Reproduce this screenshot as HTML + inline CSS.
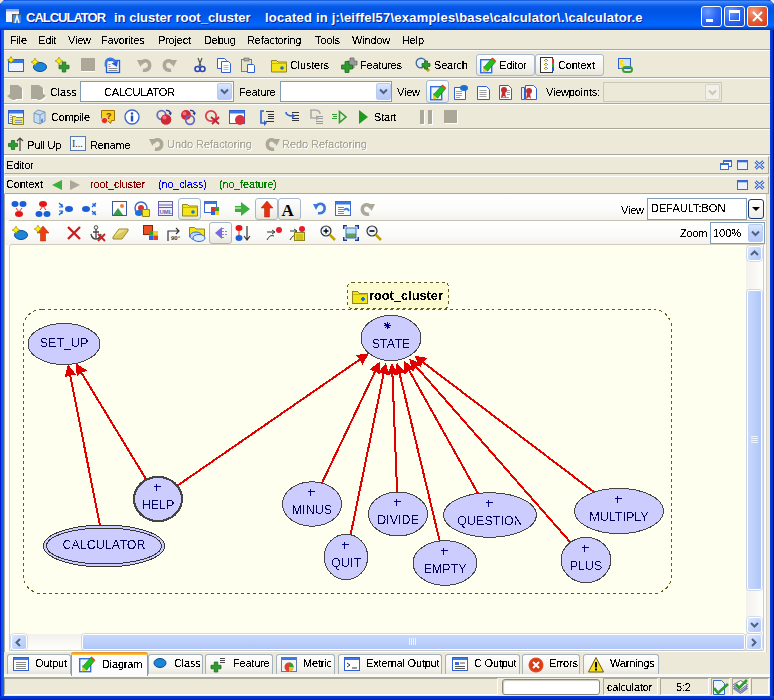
<!DOCTYPE html>
<html><head><meta charset="utf-8"><style>
*{margin:0;padding:0;box-sizing:border-box}
html,body{width:774px;height:700px;overflow:hidden;background:#ECE9D8}
body{position:relative;font-family:"Liberation Sans",sans-serif;font-size:11px;color:#000}
.a{position:absolute}
.t{white-space:pre;font-size:11px;line-height:13px;letter-spacing:-0.2px;filter:url(#crisp)}
.g{white-space:pre;font-size:11px;line-height:13px;color:#ACA899;letter-spacing:-0.05px;text-shadow:1px 1px 0 #fff;filter:url(#crisp)}
svg{overflow:visible}
.sepl{position:absolute;height:2px;border-top:1px solid #ACA899;border-bottom:1px solid #fff}
.btn{position:absolute;border:1px solid #A8B8D0;border-radius:3px;background:linear-gradient(#FFFFFF,#F4F3EE 60%,#E8E6DC)}
.combo{position:absolute;border:1px solid #7F9DB9;background:#fff}
.dd{position:absolute;border-radius:2px;border:1px solid #B8CCF0;background:linear-gradient(#DCE8FE,#C0D2FA 50%,#B6CAF8)}
.tab{position:absolute;border:1px solid #A4B2BE;border-bottom:none;border-radius:3px 3px 0 0;background:linear-gradient(#FEFEFE,#F4F3EE 70%,#E6E4DA)}
</style></head><body>
<svg width="0" height="0" style="position:absolute"><filter id="crisp"><feComponentTransfer><feFuncA type="discrete" tableValues="0 0 0 0 0 0 0 0 0 1 1 1 1 1 1 1 1 1 1 1"/></feComponentTransfer></filter><filter id="crisp2"><feComponentTransfer><feFuncA type="discrete" tableValues="0 0 0 0 0 0 0 0 0 0 0 1 1 1 1 1 1 1 1 1"/></feComponentTransfer></filter></svg>
<div class="a" style="left:0;top:0;width:774px;height:700px;background:#0831D9"></div>
<div class="a" style="left:0;top:0;width:774px;height:30px;border-radius:7px 7px 0 0;background:linear-gradient(#0848D0 0,#3A8CFF 1.5px,#2C7CF8 3px,#0A5AE8 6px,#0054E2 10px,#0058EA 16px,#0061F6 21px,#0066FF 25px,#005AEA 27px,#0042C8 29px,#0038B4 30px)"></div>
<div class="a" style="left:0;top:0;width:4px;height:4px;background:#E8E8E0;border-radius:0;clip-path:polygon(0 0,100% 0,0 100%);x:4px"></div>
<div class="a" style="left:770px;top:0;width:4px;height:4px;background:#E8E8E0;clip-path:polygon(0 0,100% 0,100% 100%)"></div>
<div class="a" style="left:0;top:30px;width:1px;height:670px;background:#0019CF"></div>
<div class="a" style="left:1px;top:30px;width:3px;height:666px;background:linear-gradient(90deg,#0D4FE8,#166AEE)"></div>
<div class="a" style="left:773px;top:30px;width:1px;height:670px;background:#001090"></div>
<div class="a" style="left:770px;top:30px;width:3px;height:666px;background:linear-gradient(90deg,#0A3FDC,#0029C0)"></div>
<div class="a" style="left:0;top:696px;width:774px;height:4px;background:linear-gradient(#0A3FDC,#0030C8 60%,#001890)"></div>
<div class="a" style="left:4px;top:30px;width:766px;height:666px;background:#ECE9D8"></div>
<svg class="a" style="left:6px;top:9px" width="16" height="15" viewBox="0 0 16 15"><rect x="0" y="0" width="13" height="13" fill="#F4F6FF"/><rect x="0" y="0" width="13" height="2.5" fill="#8AA8E8"/><rect x="6.5" y="5.5" width="9" height="9" fill="#3A8AE8" stroke="#555"/><path d="M9 14 L11 7 L13 14" stroke="#fff" stroke-width="1.4" fill="none"/></svg>
<div style="position:absolute;top:10px;color:#fff;font-weight:bold;font-size:13px;line-height:16px;white-space:pre;text-shadow:1px 1px 0 #0A1E8A;left:26px;letter-spacing:-1px">CALCULATOR</div>
<div style="position:absolute;top:10px;color:#fff;font-weight:bold;font-size:13px;line-height:16px;white-space:pre;text-shadow:1px 1px 0 #0A1E8A;left:114px;letter-spacing:0px">in cluster root_cluster</div>
<div style="position:absolute;top:10px;color:#fff;font-weight:bold;font-size:13px;line-height:16px;white-space:pre;text-shadow:1px 1px 0 #0A1E8A;left:265px;letter-spacing:0.22px">located in j:\eiffel57\examples\base\calculator\.\calculator.e</div>
<div class="a" style="left:701px;top:6px;width:21px;height:21px;border:1px solid #fff;border-radius:3px;background:radial-gradient(circle at 30% 25%,#6E9CFF 0,#2E6BF5 45%,#1F55E8 80%,#1746C8 100%);overflow:hidden"><div class="a" style="left:4px;top:12px;width:7px;height:3px;background:#fff"></div></div>
<div class="a" style="left:724px;top:6px;width:21px;height:21px;border:1px solid #fff;border-radius:3px;background:radial-gradient(circle at 30% 25%,#6E9CFF 0,#2E6BF5 45%,#1F55E8 80%,#1746C8 100%);overflow:hidden"><div class="a" style="left:4px;top:3px;width:11px;height:11px;border:1px solid #fff;border-top:3px solid #fff"></div></div>
<div class="a" style="left:747px;top:6px;width:21px;height:21px;border:1px solid #fff;border-radius:3px;background:radial-gradient(circle at 30% 25%,#F4A080 0,#E5603A 45%,#D84418 85%,#C03A10 100%);overflow:hidden"><svg class="a" style="left:4px;top:4px" width="11" height="11"><path d="M1 1L10 10M10 1L1 10" stroke="#fff" stroke-width="2"/></svg></div>
<div class="a t" style="left:10px;top:34px;">File</div>
<div class="a t" style="left:38px;top:34px;">Edit</div>
<div class="a t" style="left:68px;top:34px;">View</div>
<div class="a t" style="left:101px;top:34px;">Favorites</div>
<div class="a t" style="left:158px;top:34px;">Project</div>
<div class="a t" style="left:204px;top:34px;">Debug</div>
<div class="a t" style="left:247px;top:34px;">Refactoring</div>
<div class="a t" style="left:315px;top:34px;">Tools</div>
<div class="a t" style="left:352px;top:34px;">Window</div>
<div class="a t" style="left:402px;top:34px;">Help</div>
<div class="sepl" style="left:4px;top:49px;width:766px"></div>
<svg class="a" style="left:8px;top:57px" width="16" height="16" viewBox="0 0 16 16"><rect x="0.5" y="2.5" width="15" height="12" fill="#EEF2FF" stroke="#2F5FD0"/><rect x="1" y="3" width="14" height="3" fill="#3A78E8"/><path d="M3 -0.5999999999999996 L4.2 1.8 L6.6 3 L4.2 4.2 L3 6.6 L1.8 4.2 L-0.5999999999999996 3 L1.8 1.8Z" fill="#FFF200" stroke="#8A7A00" stroke-width="0.6"/></svg>
<svg class="a" style="left:31px;top:57px" width="16" height="16" viewBox="0 0 16 16"><ellipse cx="9" cy="10" rx="6.5" ry="4.5" fill="#1B86D8" stroke="#0B4A96"/><path d="M4 1.0999999999999996 L5.3 3.7 L7.9 5 L5.3 6.3 L4 8.9 L2.7 6.3 L0.09999999999999964 5 L2.7 3.7Z" fill="#FFF200" stroke="#8A7A00" stroke-width="0.6"/></svg>
<svg class="a" style="left:55px;top:57px" width="16" height="16" viewBox="0 0 16 16"><path d="M7.25 5.0h3.5v3.25h3.25v3.5h-3.25v3.25h-3.5v-3.25h-3.25v-3.5h3.25z" fill="#2E9B2E" stroke="#1F6B1F" stroke-width="0.8"/><path d="M4 0.09999999999999964 L5.3 2.7 L7.9 4 L5.3 5.3 L4 7.9 L2.7 5.3 L0.09999999999999964 4 L2.7 2.7Z" fill="#FFF200" stroke="#8A7A00" stroke-width="0.6"/></svg>
<svg class="a" style="left:81px;top:58px" width="14" height="14" viewBox="0 0 14 14"><rect x="0" y="0" width="14" height="14" fill="#ACA899"/><rect x="0" y="13" width="14" height="1" fill="#fff"/></svg>
<svg class="a" style="left:104px;top:57px" width="16" height="16" viewBox="0 0 16 16"><rect x="2.5" y="3.5" width="13" height="12" fill="#F4F6FF" stroke="#1E5AD0" stroke-width="1.3"/><path d="M4.5 7.5h2M4.5 9.5h2M4.5 11.5h9M4.5 13.5h9" stroke="#8A8A8A" stroke-width="1"/><path d="M2 9.5 Q1 2 6 1.8 Q9.5 1.8 11 5" stroke="#3A7AE8" stroke-width="2.6" fill="none"/><path d="M7.5 6.5L14 3.5L13 10z" fill="#2A5AD8"/></svg>
<svg class="a" style="left:137px;top:57px" width="16" height="16" viewBox="0 0 16 16"><path d="M4 7 Q6 3 10 4 Q14 6 12 11 Q10 14 6 13" stroke="#ACA899" stroke-width="3.5" fill="none"/><path d="M0 3l7 0-3.5 7z" fill="#ACA899"/></svg>
<svg class="a" style="left:161px;top:57px" width="16" height="16" viewBox="0 0 16 16"><path d="M12 7 Q10 3 6 4 Q2 6 4 11 Q6 14 10 13" stroke="#ACA899" stroke-width="3.5" fill="none"/><path d="M16 3l-7 0 3.5 7z" fill="#ACA899"/></svg>
<svg class="a" style="left:192px;top:57px" width="16" height="16" viewBox="0 0 16 16"><path d="M6 1 L9 9 M10 1 L7 9" stroke="#555" stroke-width="1.2"/><circle cx="5.5" cy="12" r="2.5" fill="none" stroke="#2846B8" stroke-width="1.6"/><circle cx="10.5" cy="12" r="2.5" fill="none" stroke="#2846B8" stroke-width="1.6"/></svg>
<svg class="a" style="left:216px;top:57px" width="16" height="16" viewBox="0 0 16 16"><path d="M1.5 1.5h7l2 2v8h-9z" fill="#fff" stroke="#2F5FD0"/><path d="M5.5 4.5h7l2 2v9h-9z" fill="#fff" stroke="#2F5FD0"/><path d="M7.5 8.5h5M7.5 10.5h5M7.5 12.5h5" stroke="#888" stroke-width="0.6"/></svg>
<svg class="a" style="left:240px;top:57px" width="16" height="16" viewBox="0 0 16 16"><rect x="1.5" y="2.5" width="10" height="12" fill="#E8E4C8" stroke="#8A8240"/><rect x="4" y="1" width="5" height="3" fill="#aaa" stroke="#666" stroke-width="0.6"/><path d="M7.5 7.5h6l1 1v7h-7z" fill="#fff" stroke="#2F5FD0"/></svg>
<svg class="a" style="left:271px;top:57px" width="16" height="16" viewBox="0 0 16 16"><path d="M0.5 3.5h5l1.5 1.5h8.5v10h-15z" fill="#F4E51A" stroke="#8F8520"/><path d="M0.5 6.5h15" stroke="#C8B810"/><circle cx="11" cy="11" r="1.8" fill="#1870D0"/></svg>
<div class="a t" style="left:290px;top:59px;">Clusters</div>
<svg class="a" style="left:341px;top:57px" width="16" height="16" viewBox="0 0 16 16"><path d="M9.0 1.0h4v3.0h3.0v4h-3.0v3.0h-4v-3.0h-3.0v-4h3.0z" fill="#9A9A9A" stroke="#6A6A6A" stroke-width="0.8"/><path d="M4.0 4.5h4v3.5h3.5v4h-3.5v3.5h-4v-3.5h-3.5v-4h3.5z" fill="#2E9B2E" stroke="#1F6B1F" stroke-width="0.8"/></svg>
<div class="a t" style="left:360px;top:59px;">Features</div>
<svg class="a" style="left:415px;top:57px" width="16" height="16" viewBox="0 0 16 16"><circle cx="6" cy="6" r="4.8" fill="#DDEEFF" stroke="#4A6A9A" stroke-width="1.4"/><path d="M9 9l5 5" stroke="#B89A10" stroke-width="3"/><path d="M9.5 4.0h3v2.5h2.5v3h-2.5v2.5h-3v-2.5h-2.5v-3h2.5z" fill="#2E9B2E" stroke="#1F6B1F" stroke-width="0.8"/></svg>
<div class="a t" style="left:434px;top:59px;">Search</div>
<div class="btn" style="left:476px;top:54px;width:59px;height:22px"></div>
<div class="btn" style="left:535px;top:54px;width:69px;height:22px"></div>
<svg class="a" style="left:480px;top:57px" width="16" height="16" viewBox="0 0 16 16"><rect x="0.7" y="2.7" width="11" height="13" fill="#F4F6FF" stroke="#2F6FE0" stroke-width="1.4"/><path d="M3 9.5h3M3 11.5h3M3 13.5h6" stroke="#aaa" stroke-width="0.8"/><path d="M3.6 10.8L7.4 14.2L15.2 5.2L11.4 1.8z" fill="#20C020" stroke="#107010" stroke-width="0.6"/><path d="M3.6 10.8L7.4 14.2L3 15.5z" fill="#E0D020"/><path d="M11.4 1.8L15.2 5.2L16.3 4L12.6 0.5z" fill="#E84010"/></svg>
<div class="a t" style="left:499px;top:59px;">Editor</div>
<svg class="a" style="left:539px;top:57px" width="16" height="16" viewBox="0 0 16 16"><rect x="1.5" y="0.5" width="12" height="15" fill="#fff" stroke="#333"/><path d="M7 2v12" stroke="#A08000" stroke-dasharray="1 1"/><path d="M5 4l2-2 2 2M5 8l2-2 2 2M5 12l2-2 2 2" stroke="#A09000" fill="none"/><rect x="13" y="2" width="2" height="4" fill="#E03030"/><rect x="13" y="6" width="2" height="4" fill="#30A030"/><rect x="13" y="10" width="2" height="4" fill="#3050E0"/></svg>
<div class="a t" style="left:558px;top:59px;">Context</div>
<svg class="a" style="left:617px;top:57px" width="16" height="16" viewBox="0 0 16 16"><rect x="1.5" y="1.5" width="12" height="10" fill="#CFE0FA" stroke="#2F5FD0"/><path d="M3 3h4l-2 4h3l-5 6 2-5h-3z" fill="#F8E020"/><rect x="6" y="10" width="9" height="5" rx="2.5" fill="none" stroke="#38A038" stroke-width="2"/></svg>
<div class="sepl" style="left:4px;top:77px;width:766px"></div>
<svg class="a" style="left:7px;top:84px" width="16" height="16" viewBox="0 0 16 16"><path d="M3 1H11L15 4V15H9L8 16H6L3 14.5L0 12L3 10z" fill="#fff" transform="translate(1,1)"/><path d="M3 1H11L15 4V15H9L8 16H6L3 14.5L0 12L3 10z" fill="#ACA899"/></svg>
<svg class="a" style="left:31px;top:84px" width="16" height="16" viewBox="0 0 16 16"><path d="M0 1H8L12 4V9.5L15 12L12 14.5L9 16H7L6 15H0z" fill="#fff" transform="translate(1,1)"/><path d="M0 1H8L12 4V9.5L15 12L12 14.5L9 16H7L6 15H0z" fill="#ACA899"/></svg>
<div class="a t" style="left:50px;top:86px;">Class</div>
<div class="combo" style="left:80px;top:81px;width:154px;height:21px"></div>
<div class="dd" style="left:217px;top:83px;width:15px;height:17px"></div>
<svg class="a" style="left:220px;top:88px" width="9" height="7"><path d="M1 1.5L4.5 5L8 1.5" stroke="#4D6185" stroke-width="2" fill="none"/></svg>
<div class="a t" style="left:104px;top:86px;">CALCULATOR</div>
<div class="a t" style="left:239px;top:86px;">Feature</div>
<div class="combo" style="left:280px;top:81px;width:112px;height:21px"></div>
<div class="dd" style="left:376px;top:83px;width:15px;height:17px"></div>
<svg class="a" style="left:379px;top:88px" width="9" height="7"><path d="M1 1.5L4.5 5L8 1.5" stroke="#4D6185" stroke-width="2" fill="none"/></svg>
<div class="a t" style="left:397px;top:86px;">View</div>
<div class="btn" style="left:426px;top:80px;width:23px;height:23px"></div>
<svg class="a" style="left:430px;top:84px" width="16" height="16" viewBox="0 0 16 16"><rect x="0.7" y="2.7" width="11" height="13" fill="#F4F6FF" stroke="#2F6FE0" stroke-width="1.4"/><path d="M3 9.5h3M3 11.5h3M3 13.5h6" stroke="#aaa" stroke-width="0.8"/><path d="M3.6 10.8L7.4 14.2L15.2 5.2L11.4 1.8z" fill="#20C020" stroke="#107010" stroke-width="0.6"/><path d="M3.6 10.8L7.4 14.2L3 15.5z" fill="#E0D020"/><path d="M11.4 1.8L15.2 5.2L16.3 4L12.6 0.5z" fill="#E84010"/></svg>
<svg class="a" style="left:453px;top:84px" width="16" height="16" viewBox="0 0 16 16"><path d="M1.5 3.5h9l2 2v10h-11z" fill="#fff" stroke="#2F5FD0"/><path d="M3 7.5h6M3 9.5h6M3 11.5h6M3 13.5h4" stroke="#777" stroke-width="0.7"/><ellipse cx="11" cy="4" rx="4" ry="3" fill="#1B6FD0"/></svg>
<svg class="a" style="left:476px;top:84px" width="16" height="16" viewBox="0 0 16 16"><path d="M1.5 2.5h9l3 3v10h-12z" fill="#fff" stroke="#2F5FD0"/><path d="M3.5 6.5h7M3.5 8.5h7M3.5 10.5h7M3.5 12.5h7" stroke="#777" stroke-width="0.7"/></svg>
<svg class="a" style="left:498px;top:84px" width="16" height="16" viewBox="0 0 16 16"><path d="M1.5 1.5h9l3 3v11h-12z" fill="#fff" stroke="#2F5FD0"/><path d="M9 6.5h3M9 8.5h3M9 10.5h3M3 13.5h8" stroke="#777" stroke-width="0.7"/><circle cx="6" cy="6" r="3" fill="#C03030"/><path d="M4 8l-1 6 3-2 2 2-1-6z" fill="#C03030"/></svg>
<svg class="a" style="left:521px;top:84px" width="16" height="16" viewBox="0 0 16 16"><path d="M4.5 1.5h8l3 3v11h-11z" fill="#fff" stroke="#2F5FD0"/><path d="M0.5 3.5h3v12h-3z" fill="#E8EEF8" stroke="#2F5FD0"/><circle cx="8" cy="7" r="3" fill="#C03030"/><path d="M6 9l-1 6 3-2 2 2-1-6z" fill="#C03030"/></svg>
<div class="a t" style="left:546px;top:86px;">Viewpoints:</div>
<div class="a" style="left:603px;top:82px;width:119px;height:20px;border:1px solid #C9C7BA;background:#ECE9D8"></div>
<div class="a" style="left:705px;top:84px;width:15px;height:16px;border:1px solid #D8D5C8;border-radius:2px;background:#F2F0E8"></div>
<svg class="a" style="left:708px;top:89px" width="9" height="7"><path d="M1 1.5L4.5 5L8 1.5" stroke="#C9C7BA" stroke-width="2" fill="none"/></svg>
<div class="sepl" style="left:4px;top:103px;width:766px"></div>
<svg class="a" style="left:8px;top:109px" width="16" height="16" viewBox="0 0 16 16"><rect x="0.5" y="1.5" width="15" height="13" fill="#F8F8FF" stroke="#2F5FD0"/><rect x="1" y="2" width="14" height="2.5" fill="#3A78E8"/><path d="M2.5 6.5h1M2.5 8.5h1M2.5 10.5h1M2.5 12.5h1" stroke="#555"/><path d="M4.5 7.5h3l1 1h7v7h-11z" fill="#F0E860" stroke="#8F8520"/><path d="M7 11.5h7M7 13.5h7" stroke="#8A9AB0" stroke-width="1"/></svg>
<svg class="a" style="left:31px;top:109px" width="16" height="16" viewBox="0 0 16 16"><path d="M3 4 L7 1 L14 3 L14 12 L9 15 L3 13z" fill="#C8DCF0" stroke="#7A9AC0"/><path d="M3 4 L9 6 L14 3 M9 6 V15" stroke="#7A9AC0" fill="none"/><path d="M11 9 Q9 12 11 14 Q13 12 11 9z" fill="#4A8AE0"/></svg>
<div class="a t" style="left:51px;top:111px;">Compile</div>
<svg class="a" style="left:100px;top:109px" width="16" height="16" viewBox="0 0 16 16"><path d="M1.5 1.5h13v10h-3l-1 3-3-3h-6z" fill="#F4D020" stroke="#A07000"/><text x="6" y="9.5" font-size="9" font-weight="bold" fill="#703000" font-family="Liberation Sans">?</text><circle cx="4.5" cy="11.5" r="3.2" fill="#E03020" stroke="#fff" stroke-width="0.8"/></svg>
<svg class="a" style="left:124px;top:109px" width="16" height="16" viewBox="0 0 16 16"><circle cx="8" cy="8" r="7" fill="#fff" stroke="#3A6AD0" stroke-width="1.4"/><circle cx="8" cy="4.5" r="1.2" fill="#2050C0"/><rect x="6.8" y="6.5" width="2.4" height="6" fill="#2050C0"/></svg>
<svg class="a" style="left:156px;top:109px" width="16" height="16" viewBox="0 0 16 16"><circle cx="5.5" cy="6" r="4.3" fill="none" stroke="#6A6ABF" stroke-width="1.8"/><circle cx="10" cy="10.5" r="5.3" fill="#D02838"/><circle cx="8.5" cy="8.5" r="2" fill="#F07080"/><path d="M10 1.5 Q14 1 14.5 4.5" stroke="#2A3A90" stroke-width="1.3" fill="none"/><path d="M12.5 4l2 2.5 1.5-3z" fill="#2A3A90"/></svg>
<svg class="a" style="left:180px;top:109px" width="16" height="16" viewBox="0 0 16 16"><circle cx="6" cy="6" r="5" fill="#D02838"/><circle cx="4.5" cy="4.5" r="2" fill="#F07080"/><circle cx="10" cy="11" r="4.3" fill="none" stroke="#6A6ABF" stroke-width="1.8"/><path d="M10 1.5 Q14 1 14.5 4.5" stroke="#2A3A90" stroke-width="1.3" fill="none"/><path d="M12.5 4l2 2.5 1.5-3z" fill="#2A3A90"/></svg>
<svg class="a" style="left:204px;top:109px" width="16" height="16" viewBox="0 0 16 16"><circle cx="7" cy="7" r="5.2" fill="none" stroke="#D84050" stroke-width="1.8"/><path d="M7 8 L15 15 M15 8 L8 15" stroke="#C02030" stroke-width="1.8"/></svg>
<svg class="a" style="left:229px;top:109px" width="16" height="16" viewBox="0 0 16 16"><rect x="0.5" y="1.5" width="15" height="13" fill="#fff" stroke="#2F5FD0"/><rect x="1" y="2" width="14" height="2.5" fill="#3A78E8"/><circle cx="11" cy="11" r="5" fill="#D83040"/></svg>
<svg class="a" style="left:259px;top:109px" width="16" height="16" viewBox="0 0 16 16"><path d="M7 2.5h8M9 5.5h6M9 7.5h6M9 9.5h6M7 12.5h8" stroke="#333" stroke-width="1"/><path d="M5 2 H2 V14 H6" stroke="#3060D0" stroke-width="1.6" fill="none"/><path d="M5 11l3 3-3 3z" fill="#3060D0"/></svg>
<svg class="a" style="left:284px;top:109px" width="16" height="16" viewBox="0 0 16 16"><path d="M8 3.5h7M8 6.5h7M8 9.5h7M8 11.5h7" stroke="#333" stroke-width="1"/><path d="M2 3 Q2 7 9 7" stroke="#3060D0" stroke-width="1.6" fill="none"/><path d="M8 4l3 3-3 3z" fill="#3060D0"/></svg>
<svg class="a" style="left:308px;top:109px" width="16" height="16" viewBox="0 0 16 16"><path d="M8 7.5h7M8 9.5h7M8 12.5h7M8 14.5h7" stroke="#999" stroke-width="1"/><path d="M12 5 Q12 1 6 1 H3 V9 H9" stroke="#aaa" stroke-width="1.6" fill="none"/><path d="M8 6l3 3-3 3z" fill="#aaa"/></svg>
<svg class="a" style="left:331px;top:109px" width="16" height="16" viewBox="0 0 16 16"><path d="M1 5.5h5M2 7.5h4M1 9.5h5" stroke="#2E9B2E"/><path d="M8.5 2.5 L15 8 L8.5 13.5z" fill="none" stroke="#2E9B2E" stroke-width="1.6"/></svg>
<svg class="a" style="left:359px;top:110px" width="9" height="14" viewBox="0 0 9 14"><path d="M0 0 L9 7 L0 14z" fill="#1E9B1E"/></svg>
<div class="a t" style="left:374px;top:111px;">Start</div>
<svg class="a" style="left:420px;top:109px" width="13" height="16" viewBox="0 0 13 16"><rect x="1" y="2" width="4" height="14" fill="#fff"/><rect x="9" y="2" width="4" height="14" fill="#fff"/><rect x="0" y="1" width="4" height="14" fill="#ACA899"/><rect x="8" y="1" width="4" height="14" fill="#ACA899"/></svg>
<svg class="a" style="left:444px;top:109px" width="14" height="16" viewBox="0 0 14 16"><rect x="1" y="2" width="13" height="13" fill="#fff"/><rect x="0" y="1" width="13" height="13" fill="#ACA899"/></svg>
<div class="sepl" style="left:4px;top:128px;width:766px"></div>
<svg class="a" style="left:7px;top:136px" width="16" height="16" viewBox="0 0 16 16"><path d="M4.4 4.5h3.2v2.9h2.9v3.2h-2.9v2.9h-3.2v-2.9h-2.9v-3.2h2.9z" fill="#2E9B2E" stroke="#1F6B1F" stroke-width="0.8"/><path d="M13 15V2 M10 5l3-3 3 3" stroke="#444" stroke-width="1.2" fill="none"/></svg>
<div class="a t" style="left:27px;top:139px;">Pull Up</div>
<svg class="a" style="left:70px;top:136px" width="16" height="16" viewBox="0 0 16 16"><rect x="0.5" y="0.5" width="15" height="14" fill="#F4F8FF" stroke="#5A7AB0"/><text x="2" y="11" font-size="10" font-family="Liberation Serif" fill="#333">I...</text></svg>
<div class="a t" style="left:90px;top:139px;">Rename</div>
<svg class="a" style="left:149px;top:136px" width="16" height="16" viewBox="0 0 16 16"><path d="M4 7 Q6 3 10 4 Q14 6 12 11 Q10 14 6 13" stroke="#ACA899" stroke-width="3.5" fill="none"/><path d="M0 3l7 0-3.5 7z" fill="#ACA899"/></svg>
<div class="a g" style="left:167px;top:138px">Undo Refactoring</div>
<svg class="a" style="left:264px;top:136px" width="16" height="16" viewBox="0 0 16 16"><path d="M12 7 Q10 3 6 4 Q2 6 4 11 Q6 14 10 13" stroke="#ACA899" stroke-width="3.5" fill="none"/><path d="M16 3l-7 0 3.5 7z" fill="#ACA899"/></svg>
<div class="a g" style="left:282px;top:138px">Redo Refactoring</div>
<div class="sepl" style="left:4px;top:154px;width:766px"></div>
<div class="a" style="left:4px;top:156px;width:765px;height:18px;border:1px solid #ACA899;border-top-color:#fff;border-left-color:#fff;background:#ECE9D8"></div>
<div class="a t" style="left:6px;top:159px;">Editor</div>
<svg class="a" style="left:720px;top:160px" width="12" height="10" viewBox="0 0 12 10"><rect x="3.5" y="0.5" width="8" height="6" fill="#fff" stroke="#3A6AD0"/><rect x="0.5" y="3.5" width="8" height="6" fill="#fff" stroke="#3A6AD0"/><rect x="0.5" y="3.5" width="8" height="1.5" fill="#3A6AD0"/><rect x="3.5" y="0.5" width="8" height="1.5" fill="#3A6AD0"/></svg>
<svg class="a" style="left:737px;top:160px" width="11" height="10" viewBox="0 0 11 10"><rect x="0.5" y="0.5" width="10" height="9" fill="#EEF2FF" stroke="#3A6AD0"/><rect x="0.5" y="0.5" width="10" height="1.8" fill="#3A6AD0"/></svg>
<svg class="a" style="left:754px;top:160px" width="11" height="10" viewBox="0 0 11 10"><path d="M1.5 1.5L9.5 8.5M9.5 1.5L1.5 8.5" stroke="#3A6AD0" stroke-width="3"/><path d="M1.5 1.5L9.5 8.5M9.5 1.5L1.5 8.5" stroke="#fff" stroke-width="1"/></svg>
<div class="a" style="left:4px;top:176px;width:765px;height:18px;border:1px solid #ACA899;border-top-color:#fff;border-left-color:#fff;background:#ECE9D8"></div>
<div class="a t" style="left:6px;top:178px;">Context</div>
<svg class="a" style="left:52px;top:180px" width="11" height="11" viewBox="0 0 11 11"><path d="M0 5 L10 0 L10 10z" fill="#3CB03C"/></svg>
<svg class="a" style="left:70px;top:180px" width="11" height="11" viewBox="0 0 11 11"><path d="M10 5 L0 0 L0 10z" fill="#ACA899"/></svg>
<div class="a t" style="left:90px;top:178px;color:#800000">root_cluster</div>
<div class="a t" style="left:158px;top:178px;color:#0000FF">(no_class)</div>
<div class="a t" style="left:219px;top:178px;color:#008000">(no_feature)</div>
<svg class="a" style="left:737px;top:180px" width="11" height="10" viewBox="0 0 11 10"><rect x="0.5" y="0.5" width="10" height="9" fill="#EEF2FF" stroke="#3A6AD0"/><rect x="0.5" y="0.5" width="10" height="1.8" fill="#3A6AD0"/></svg>
<svg class="a" style="left:754px;top:180px" width="11" height="10" viewBox="0 0 11 10"><path d="M1.5 1.5L9.5 8.5M9.5 1.5L1.5 8.5" stroke="#3A6AD0" stroke-width="3"/><path d="M1.5 1.5L9.5 8.5M9.5 1.5L1.5 8.5" stroke="#fff" stroke-width="1"/></svg>
<div class="a" style="left:4px;top:194px;width:763px;height:458px;border-left:1px solid #ACA899;background:#FCFCFB"></div>
<div class="a" style="left:5px;top:195px;width:761px;height:25px;background:linear-gradient(#FFFFFF,#FBFBF9 60%,#F4F3EE)"></div>
<div class="a" style="left:9px;top:220px;width:757px;height:1px;background:#C5C2B2"></div>
<div class="a" style="left:9px;top:221px;width:757px;height:1px;background:#fff"></div>
<div class="a" style="left:5px;top:222px;width:761px;height:23px;background:linear-gradient(#FFFFFF,#FAFAF8 60%,#F2F1EC)"></div>
<div class="a" style="left:766px;top:194px;width:1px;height:458px;background:#D6D3C6"></div>
<svg class="a" style="left:11px;top:201px" width="16" height="16" viewBox="0 0 16 16"><ellipse cx="4" cy="3" rx="3.5" ry="3" fill="#1B5FD8"/><ellipse cx="12" cy="3" rx="3.5" ry="3" fill="#1B5FD8"/><ellipse cx="8" cy="13" rx="4" ry="3" fill="#E01818"/><path d="M5 7l3 4 3-4" stroke="#E03030" fill="none" stroke-width="1"/></svg>
<svg class="a" style="left:35px;top:201px" width="16" height="16" viewBox="0 0 16 16"><ellipse cx="8" cy="3" rx="4" ry="3" fill="#E01818"/><ellipse cx="4" cy="13" rx="3.5" ry="3" fill="#1B5FD8"/><ellipse cx="12" cy="13" rx="3.5" ry="3" fill="#1B5FD8"/><path d="M5 9l3-4 3 4" stroke="#E03030" fill="none" stroke-width="1"/></svg>
<svg class="a" style="left:58px;top:201px" width="16" height="16" viewBox="0 0 16 16"><ellipse cx="11" cy="8" rx="4" ry="3" fill="#1B5FD8"/><path d="M1 2l4 4 M1 14l4-4 M1 6h3v-3 M1 10h3v3" stroke="#1B5FD8" fill="none" stroke-width="1.2"/></svg>
<svg class="a" style="left:81px;top:201px" width="16" height="16" viewBox="0 0 16 16"><ellipse cx="5" cy="8" rx="4" ry="3" fill="#1B5FD8"/><path d="M15 2l-4 4 M15 14l-4-4 M11 3h3v3 M11 13h3v-3" stroke="#1B5FD8" fill="none" stroke-width="1.2"/></svg>
<svg class="a" style="left:112px;top:201px" width="16" height="16" viewBox="0 0 16 16"><rect x="0.5" y="0.5" width="14" height="14" fill="#fff" stroke="#3A5A9A"/><path d="M1 14 L6 7 L11 14z" fill="#3A9A4A"/><circle cx="10" cy="5" r="2" fill="#F08030"/></svg>
<svg class="a" style="left:134px;top:201px" width="16" height="16" viewBox="0 0 16 16"><circle cx="7" cy="7" r="6" fill="#fff" stroke="#3A6AD0" stroke-width="1.5"/><circle cx="7" cy="7" r="3" fill="#E03030"/><ellipse cx="5" cy="12" rx="4" ry="3" fill="#1B6FD8"/><path d="M8.5 8.5h7v7h-7z" fill="#F4E51A" stroke="#8F8520"/></svg>
<svg class="a" style="left:158px;top:201px" width="16" height="16" viewBox="0 0 16 16"><rect x="0.5" y="0.5" width="14" height="14" fill="#F0F0FF" stroke="#6A5AB0"/><path d="M1 4h14M1 6.5h14" stroke="#6A5AB0"/><text x="1.5" y="13" font-size="6" font-weight="bold" fill="#6A5AB0" font-family="Liberation Sans">UML</text></svg>
<div class="btn" style="left:178px;top:198px;width:23px;height:22px"></div>
<svg class="a" style="left:182px;top:201px" width="16" height="16" viewBox="0 0 16 16"><path d="M0.5 3.5h5l1.5 1.5h8.5v10h-15z" fill="#F4E51A" stroke="#8F8520"/><path d="M0.5 6.5h15" stroke="#C8B810"/><circle cx="11" cy="11" r="1.8" fill="#1870D0"/></svg>
<svg class="a" style="left:204px;top:201px" width="16" height="16" viewBox="0 0 16 16"><rect x="0.5" y="0.5" width="12" height="11" fill="#fff" stroke="#3A6AD0"/><rect x="1" y="1" width="11" height="2" fill="#3A78E8"/><rect x="7" y="6" width="4" height="4" fill="#E03030"/><rect x="11" y="6" width="4" height="4" fill="#30A030"/><rect x="7" y="10" width="4" height="4" fill="#3060E0"/><rect x="11" y="10" width="4" height="4" fill="#F0D020"/></svg>
<svg class="a" style="left:235px;top:201px" width="16" height="16" viewBox="0 0 16 16"><path d="M0 5h6v-4l9 7-9 7v-4h-6z" fill="#3CB03C"/><path d="M0 7h6" stroke="#fff"/></svg>
<div class="btn" style="left:255px;top:198px;width:23px;height:22px"></div>
<svg class="a" style="left:259px;top:201px" width="16" height="16" viewBox="0 0 16 16"><path d="M8 0l6 7h-3.5v9h-5v-9h-3.5z" fill="#E83010" stroke="#A02000" stroke-width="0.5"/></svg>
<div class="btn" style="left:278px;top:198px;width:23px;height:22px"></div>
<svg class="a" style="left:281px;top:201px" width="16" height="16" viewBox="0 0 16 16"><text x="0.5" y="15" font-size="17" font-weight="bold" font-family="Liberation Serif" fill="#000">A</text></svg>
<svg class="a" style="left:312px;top:201px" width="16" height="16" viewBox="0 0 16 16"><path d="M4 6 Q6 2 10 3 Q14 5 12 10 Q10 13 6 12" stroke="#3A7AE0" stroke-width="2.6" fill="none"/><path d="M1 3l6 0-3 6z" fill="#3A7AE0"/></svg>
<svg class="a" style="left:335px;top:201px" width="16" height="16" viewBox="0 0 16 16"><rect x="0.5" y="0.5" width="15" height="14" fill="#fff" stroke="#3A6AD0"/><rect x="1" y="1" width="14" height="2.5" fill="#3A78E8"/><path d="M3 6.5h6M3 8.5h6M3 10.5h6M3 12.5h6" stroke="#666" stroke-width="0.8"/><path d="M9 9 Q12 6 14 10" stroke="#3A7AE0" stroke-width="2" fill="none"/></svg>
<svg class="a" style="left:359px;top:201px" width="16" height="16" viewBox="0 0 16 16"><path d="M12 7 Q10 3 6 4 Q2 6 4 11 Q6 14 10 13" stroke="#ACA899" stroke-width="3.5" fill="none"/><path d="M16 3l-7 0 3.5 7z" fill="#ACA899"/></svg>
<div class="a t" style="left:621px;top:204px;">View</div>
<div class="combo" style="left:647px;top:198px;width:100px;height:22px"></div>
<div class="a t" style="left:651px;top:202px;font-size:11px;letter-spacing:0">DEFAULT:BON</div>
<div class="a" style="left:748px;top:199px;width:16px;height:20px;border:1px solid #1C3A6E;border-radius:3px;background:linear-gradient(#fff,#ECEBE6)"></div>
<svg class="a" style="left:752px;top:207px" width="8" height="5"><path d="M0 0h8L4 4z" fill="#000"/></svg>
<svg class="a" style="left:12px;top:225px" width="16" height="16" viewBox="0 0 16 16"><ellipse cx="9" cy="10" rx="6.5" ry="4.5" fill="#1B86D8" stroke="#0B4A96"/><path d="M4 1.0999999999999996 L5.3 3.7 L7.9 5 L5.3 6.3 L4 8.9 L2.7 6.3 L0.09999999999999964 5 L2.7 3.7Z" fill="#FFF200" stroke="#8A7A00" stroke-width="0.6"/></svg>
<svg class="a" style="left:34px;top:225px" width="16" height="16" viewBox="0 0 16 16"><path d="M9 1l6 7h-3.5v8h-5v-8h-3.5z" fill="#E84010" stroke="#A02000" stroke-width="0.5"/><path d="M4 0.09999999999999964 L5.3 2.7 L7.9 4 L5.3 5.3 L4 7.9 L2.7 5.3 L0.09999999999999964 4 L2.7 2.7Z" fill="#FFF200" stroke="#8A7A00" stroke-width="0.6"/></svg>
<svg class="a" style="left:66px;top:225px" width="16" height="16" viewBox="0 0 16 16"><path d="M2 2 L14 14 M14 2 L2 14" stroke="#C82020" stroke-width="2.4"/></svg>
<svg class="a" style="left:89px;top:225px" width="16" height="16" viewBox="0 0 16 16"><circle cx="7" cy="2.5" r="1.8" fill="none" stroke="#444"/><path d="M7 4v9 M4 7h6 M2 9 Q3 14 7 14 Q11 14 12 9" stroke="#444" fill="none" stroke-width="1.3"/><path d="M9 9 L16 16 M16 9 L9 16" stroke="#C82020" stroke-width="1.8"/></svg>
<svg class="a" style="left:112px;top:225px" width="16" height="16" viewBox="0 0 16 16"><path d="M1 12 L7 4 H16 L10 12z" fill="#F0E080" stroke="#9A8A30"/><path d="M1 12 V14 H10 L16 6 V4" fill="#D8C860" stroke="#9A8A30"/></svg>
<svg class="a" style="left:143px;top:225px" width="16" height="16" viewBox="0 0 16 16"><rect x="0.5" y="0.5" width="9" height="9" fill="#E85020" stroke="#902000"/><rect x="6" y="6" width="4.5" height="4.5" fill="#30A030"/><rect x="10.5" y="6" width="4.5" height="4.5" fill="#F0D020"/><rect x="6" y="10.5" width="4.5" height="4.5" fill="#3060E0"/><rect x="10.5" y="10.5" width="4.5" height="4.5" fill="#E04030"/></svg>
<svg class="a" style="left:167px;top:225px" width="16" height="16" viewBox="0 0 16 16"><path d="M1 16V6h10 M9 3l3 3-3 3" stroke="#333" fill="none" stroke-width="1.2"/><text x="4" y="15" font-size="6" font-weight="bold" fill="#333" font-family="Liberation Sans">90°</text></svg>
<svg class="a" style="left:189px;top:225px" width="16" height="16" viewBox="0 0 16 16"><path d="M0.5 2.5h5l1.5 1.5h8.5v8h-15z" fill="#F4E51A" stroke="#8F8520"/><ellipse cx="7" cy="11" rx="6" ry="4" fill="#BFD8F8" stroke="#3A6AD0"/><ellipse cx="10" cy="13" rx="6" ry="3.5" fill="#DDEEFF" stroke="#3A6AD0"/></svg>
<div class="btn" style="left:209px;top:222px;width:23px;height:22px"></div>
<svg class="a" style="left:213px;top:225px" width="16" height="16" viewBox="0 0 16 16"><path d="M2 8 L9 2 L9 14z" fill="#7A6AE0"/><path d="M10 3v1M10 6v1M10 9v1M10 12v1M13 6v1M13 9v1" stroke="#5A5ABF" stroke-width="1.4"/></svg>
<svg class="a" style="left:235px;top:225px" width="16" height="16" viewBox="0 0 16 16"><ellipse cx="4" cy="3" rx="3.5" ry="3" fill="#E01818"/><ellipse cx="4" cy="13" rx="3.5" ry="3" fill="#1B5FD8"/><path d="M4 6v4" stroke="#E03030"/><path d="M12 1v13 M9 11l3 4 3-4" stroke="#333" fill="none" stroke-width="1.2"/></svg>
<svg class="a" style="left:266px;top:225px" width="16" height="16" viewBox="0 0 16 16"><path d="M1 15 Q4 9 8 11 M1 7h7 M6 5l3 2-3 2" stroke="#333" fill="none"/><circle cx="13" cy="5" r="3" fill="#E02030"/></svg>
<svg class="a" style="left:289px;top:225px" width="16" height="16" viewBox="0 0 16 16"><path d="M1 15 Q4 9 8 11 M1 6h6 M5 4l3 2-3 2" stroke="#333" fill="none"/><circle cx="13" cy="4" r="3" fill="#E02030"/><rect x="5.5" y="7.5" width="10" height="8" fill="#F4E51A" stroke="#8F8520"/><path d="M7 10h7M7 12h7M7 14h7" stroke="#8F8520" stroke-width="0.7"/></svg>
<svg class="a" style="left:320px;top:225px" width="16" height="16" viewBox="0 0 16 16"><circle cx="6" cy="6" r="5" fill="#EEF4FF" stroke="#333" stroke-width="1.2"/><path d="M3.5 6h5M6 3.5v5" stroke="#000" stroke-width="1.4"/><path d="M9.5 9.5L15 15" stroke="#C0A000" stroke-width="2.5"/></svg>
<svg class="a" style="left:343px;top:225px" width="16" height="16" viewBox="0 0 16 16"><path d="M0 0h4v1.5H1.5V4H0z M16 0h-4v1.5h2.5V4H16z M0 16h4v-1.5H1.5V12H0z M16 16h-4v-1.5h2.5V12H16z" fill="#1A3A9A"/><rect x="3" y="3" width="10" height="10" fill="#60A060" stroke="#3A6AD0"/><rect x="3.5" y="3.5" width="9" height="5" fill="#BFE0FF"/></svg>
<svg class="a" style="left:366px;top:225px" width="16" height="16" viewBox="0 0 16 16"><circle cx="6" cy="6" r="5" fill="#EEF4FF" stroke="#333" stroke-width="1.2"/><path d="M3.5 6h5" stroke="#000" stroke-width="1.6"/><path d="M9.5 9.5L15 15" stroke="#C0A000" stroke-width="2.5"/></svg>
<div class="a t" style="left:680px;top:227px;">Zoom</div>
<div class="combo" style="left:710px;top:222px;width:55px;height:22px"></div>
<div class="a t" style="left:713px;top:227px;font-size:11px;letter-spacing:0">100%</div>
<div class="dd" style="left:748px;top:224px;width:15px;height:18px"></div>
<svg class="a" style="left:751px;top:230px" width="9" height="7"><path d="M1 1.5L4.5 5L8 1.5" stroke="#4D6185" stroke-width="2" fill="none"/></svg>
<div class="a" style="left:9px;top:244px;width:755px;height:407px;border:1px solid #D0CDBE;border-radius:3px 0 0 0;background:#FFFFF0"></div>
<div class="a" style="left:5px;top:651px;width:761px;height:1px;background:#fff"></div>
<div class="a" style="left:746px;top:245px;width:17px;height:389px;background:linear-gradient(90deg,#F3F1EC,#FEFEFB)"></div>
<div class="a" style="left:747px;top:246px;width:15px;height:15px;border:1px solid #fff;border-radius:3px;background:linear-gradient(135deg,#DDE8FF,#C4D6FC 50%,#B4C8F6);box-shadow:0 0 0 0.5px #B0C0E0"></div>
<svg class="a" style="left:750px;top:250px" width="9" height="6"><path d="M1 5L4.5 1.5L8 5" stroke="#4D6185" stroke-width="2" fill="none"/></svg>
<div class="a" style="left:747px;top:290px;width:15px;height:300px;border:1px solid #fff;border-radius:2px;background:linear-gradient(90deg,#C8D8FC,#BCD0FA 50%,#B0C6F6);box-shadow:0 0 0 0.5px #A8B8E0"></div>
<svg class="a" style="left:751px;top:436px" width="7" height="7"><path d="M0 0.5h7M0 2.5h7M0 4.5h7M0 6.5h7" stroke="#EEF4FF"/></svg>
<div class="a" style="left:747px;top:617px;width:15px;height:16px;border:1px solid #fff;border-radius:3px;background:linear-gradient(135deg,#DDE8FF,#C4D6FC 50%,#B4C8F6);box-shadow:0 0 0 0.5px #B0C0E0"></div>
<svg class="a" style="left:750px;top:622px" width="9" height="6"><path d="M1 1L4.5 4.5L8 1" stroke="#4D6185" stroke-width="2" fill="none"/></svg>
<div class="a" style="left:10px;top:634px;width:753px;height:16px;background:linear-gradient(#F3F1EC,#FEFEFB)"></div>
<div class="a" style="left:11px;top:634px;width:16px;height:16px;border:1px solid #fff;border-radius:3px;background:linear-gradient(135deg,#DDE8FF,#C4D6FC 50%,#B4C8F6);box-shadow:0 0 0 0.5px #B0C0E0"></div>
<svg class="a" style="left:15px;top:638px" width="6" height="9"><path d="M5 1L1.5 4.5L5 8" stroke="#4D6185" stroke-width="2" fill="none"/></svg>
<div class="a" style="left:82px;top:634px;width:663px;height:16px;border:1px solid #fff;border-radius:2px;background:linear-gradient(#C8D8FC,#BCD0FA 50%,#B0C6F6);box-shadow:0 0 0 0.5px #A8B8E0"></div>
<svg class="a" style="left:409px;top:638px" width="7" height="7"><path d="M0.5 0v7M2.5 0v7M4.5 0v7M6.5 0v7" stroke="#EEF4FF"/></svg>
<div class="a" style="left:746px;top:634px;width:16px;height:16px;border:1px solid #fff;border-radius:3px;background:linear-gradient(135deg,#DDE8FF,#C4D6FC 50%,#B4C8F6);box-shadow:0 0 0 0.5px #B0C0E0"></div>
<svg class="a" style="left:751px;top:638px" width="6" height="9"><path d="M1 1L4.5 4.5L1 8" stroke="#4D6185" stroke-width="2" fill="none"/></svg>
<svg class="a" style="left:0;top:0" width="746" height="634" viewBox="0 0 746 634"><defs><clipPath id="cv"><rect x="10" y="245" width="736" height="389"/></clipPath></defs><g clip-path="url(#cv)" shape-rendering="crispEdges"><rect x="23.5" y="309.5" width="648" height="284" rx="18" ry="18" fill="none" stroke="#5C5C1E" stroke-dasharray="3 3"/><rect x="347.5" y="282.5" width="101" height="26" rx="4" ry="4" fill="#FCFAD0" stroke="#5C5C1E" stroke-dasharray="3 3"/><g transform="translate(352,288)"><path d="M0.5 3.5h5l1.5 1.5h8.5v10h-15z" fill="#F4E51A" stroke="#8F8520"/><path d="M0.5 6.5h15" stroke="#C8B810"/><circle cx="11" cy="11" r="1.8" fill="#1870D0"/></g><text x="369" y="300" font-family="Liberation Sans" font-weight="bold" font-size="12.8" fill="#000" filter="url(#crisp)">root_cluster</text><line x1="99.9" y1="525.0" x2="69.6" y2="372.2" stroke="#E00000" stroke-width="2"/><path d="M68.0 364.4L76.3 375.0L70.2 375.2L64.5 377.3Z" fill="#E00000"/><line x1="146.1" y1="479.3" x2="79.9" y2="370.2" stroke="#E00000" stroke-width="2"/><path d="M75.8 363.4L87.1 370.5L81.5 372.8L76.8 376.7Z" fill="#E00000"/><line x1="177.6" y1="485.5" x2="362.3" y2="357.8" stroke="#E00000" stroke-width="2"/><path d="M368.9 353.3L362.4 365.0L359.8 359.5L355.6 355.2Z" fill="#E00000"/><line x1="321.9" y1="483.1" x2="376.4" y2="368.8" stroke="#E00000" stroke-width="2"/><path d="M379.8 361.5L380.1 374.9L375.1 371.5L369.2 369.8Z" fill="#E00000"/><line x1="350.6" y1="534.8" x2="384.3" y2="370.6" stroke="#E00000" stroke-width="2"/><path d="M385.9 362.8L389.4 375.7L383.7 373.6L377.6 373.3Z" fill="#E00000"/><line x1="397.1" y1="492.0" x2="392.3" y2="371.1" stroke="#E00000" stroke-width="2"/><path d="M392.0 363.1L398.5 374.8L392.4 374.1L386.5 375.3Z" fill="#E00000"/><line x1="439.7" y1="541.0" x2="398.8" y2="370.4" stroke="#E00000" stroke-width="2"/><path d="M396.9 362.7L405.6 372.9L399.5 373.4L393.9 375.7Z" fill="#E00000"/><line x1="478.0" y1="493.5" x2="407.8" y2="368.0" stroke="#E00000" stroke-width="2"/><path d="M403.9 361.0L415.0 368.6L409.2 370.6L404.5 374.4Z" fill="#E00000"/><line x1="570.5" y1="542.4" x2="414.5" y2="364.7" stroke="#E00000" stroke-width="2"/><path d="M409.2 358.7L421.6 363.8L416.5 367.0L412.6 371.7Z" fill="#E00000"/><line x1="594.2" y1="492.2" x2="420.5" y2="360.4" stroke="#E00000" stroke-width="2"/><path d="M414.1 355.5L427.3 358.0L422.9 362.2L420.1 367.6Z" fill="#E00000"/><ellipse cx="64" cy="344" rx="36" ry="20.5" fill="#CCCCFF" stroke="#444" stroke-width="1"/><text x="64" y="347" text-anchor="middle" font-family="Liberation Sans" font-size="12.5" fill="#000060" filter="url(#crisp2)">SET_UP</text><ellipse cx="391" cy="338" rx="30" ry="22.6" fill="#CCCCFF" stroke="#444" stroke-width="1"/><g transform="translate(387.3,325.6)" stroke="#000090" stroke-width="1.2"><path d="M0 -3.5V3.5M-3.5 0H3.5M-2.5 -2.5L2.5 2.5M2.5 -2.5L-2.5 2.5"/></g><text x="391" y="347.5" text-anchor="middle" font-family="Liberation Sans" font-size="12.5" fill="#000060" filter="url(#crisp2)">STATE</text><ellipse cx="158" cy="499" rx="24.0" ry="22.0" fill="#CCCCFF" stroke="#444" stroke-width="2.2"/><path d="M153.5 486.5h7M156.5 483.5v7" stroke="#000080" stroke-width="1"/><text x="158" y="508.5" text-anchor="middle" font-family="Liberation Sans" font-size="12.5" fill="#000060" filter="url(#crisp2)">HELP</text><ellipse cx="104" cy="546" rx="60.5" ry="21" fill="#CCCCFF" stroke="#333" stroke-width="1"/><ellipse cx="104" cy="546" rx="57.5" ry="18" fill="none" stroke="#333" stroke-width="1"/><text x="104" y="549" text-anchor="middle" font-family="Liberation Sans" font-size="12.5" fill="#000060" filter="url(#crisp2)">CALCULATOR</text><ellipse cx="312" cy="504" rx="29.5" ry="22.2" fill="#CCCCFF" stroke="#444" stroke-width="1"/><path d="M307.5 491.5h7M310.5 488.5v7" stroke="#000080" stroke-width="1"/><text x="312" y="513.5" text-anchor="middle" font-family="Liberation Sans" font-size="12.5" fill="#000060" filter="url(#crisp2)">MINUS</text><ellipse cx="346" cy="557" rx="21.7" ry="22.7" fill="#CCCCFF" stroke="#444" stroke-width="1"/><path d="M341.5 544.5h7M344.5 541.5v7" stroke="#000080" stroke-width="1"/><text x="346" y="566.5" text-anchor="middle" font-family="Liberation Sans" font-size="12.5" fill="#000060" filter="url(#crisp2)">QUIT</text><ellipse cx="398" cy="514" rx="29.5" ry="22" fill="#CCCCFF" stroke="#444" stroke-width="1"/><path d="M393.5 501.5h7M396.5 498.5v7" stroke="#000080" stroke-width="1"/><text x="398" y="523.5" text-anchor="middle" font-family="Liberation Sans" font-size="12.5" fill="#000060" filter="url(#crisp2)">DIVIDE</text><ellipse cx="445" cy="563" rx="32" ry="22.3" fill="#CCCCFF" stroke="#444" stroke-width="1"/><path d="M440.5 550.5h7M443.5 547.5v7" stroke="#000080" stroke-width="1"/><text x="445" y="572.5" text-anchor="middle" font-family="Liberation Sans" font-size="12.5" fill="#000060" filter="url(#crisp2)">EMPTY</text><ellipse cx="490" cy="515" rx="46.5" ry="22.3" fill="#CCCCFF" stroke="#444" stroke-width="1"/><path d="M485.5 502.5h7M488.5 499.5v7" stroke="#000080" stroke-width="1"/><text x="490" y="524.5" text-anchor="middle" font-family="Liberation Sans" font-size="12.5" fill="#000060" filter="url(#crisp2)">QUESTION</text><ellipse cx="586" cy="560" rx="24.8" ry="22.6" fill="#CCCCFF" stroke="#444" stroke-width="1"/><path d="M581.5 547.5h7M584.5 544.5v7" stroke="#000080" stroke-width="1"/><text x="586" y="569.5" text-anchor="middle" font-family="Liberation Sans" font-size="12.5" fill="#000060" filter="url(#crisp2)">PLUS</text><ellipse cx="619" cy="511" rx="44.5" ry="22.6" fill="#CCCCFF" stroke="#444" stroke-width="1"/><path d="M614.5 498.5h7M617.5 495.5v7" stroke="#000080" stroke-width="1"/><text x="619" y="520.5" text-anchor="middle" font-family="Liberation Sans" font-size="12.5" fill="#000060" filter="url(#crisp2)">MULTIPLY</text></g></svg>
<div class="a" style="left:4px;top:674px;width:766px;height:3px;background:#FAFAF6"></div>
<div class="a" style="left:4px;top:677px;width:766px;height:1px;background:#ACA899"></div>
<div class="tab" style="left:7px;top:654px;width:64px;height:20px"></div>
<svg class="a" style="left:13px;top:657px" width="16" height="16" viewBox="0 0 16 16"><rect x="0.5" y="0.5" width="15" height="13" fill="#fff" stroke="#2F5FD0"/><rect x="1" y="1" width="14" height="2" fill="#3A78E8"/><path d="M3 5.5h10M3 7.5h10M3 9.5h10M3 11.5h10" stroke="#888"/></svg>
<div class="a t" style="left:35px;top:657px;">Output</div>
<div class="tab" style="left:148px;top:654px;width:55px;height:20px"></div>
<svg class="a" style="left:153px;top:657px" width="16" height="16" viewBox="0 0 16 16"><ellipse cx="7" cy="6" rx="6" ry="4.5" fill="#1B86D8" stroke="#0B4A96"/></svg>
<div class="a t" style="left:174px;top:657px;">Class</div>
<div class="tab" style="left:205px;top:654px;width:68px;height:20px"></div>
<svg class="a" style="left:210px;top:657px" width="16" height="16" viewBox="0 0 16 16"><path d="M4.25 5.0h3.5v3.25h3.25v3.5h-3.25v3.25h-3.5v-3.25h-3.25v-3.5h3.25z" fill="#2E9B2E" stroke="#1F6B1F" stroke-width="0.8"/><path d="M10 1.5h5M10 3.5h5M10 5.5h5" stroke="#333" stroke-width="0.9"/></svg>
<div class="a t" style="left:233px;top:657px;">Feature</div>
<div class="tab" style="left:276px;top:654px;width:59px;height:20px"></div>
<svg class="a" style="left:281px;top:657px" width="16" height="16" viewBox="0 0 16 16"><rect x="0.5" y="0.5" width="15" height="14" fill="#F4F4F4" stroke="#5A7AB0"/><rect x="1" y="1" width="14" height="2" fill="#3A78E8"/><circle cx="8" cy="10" r="4.5" fill="#E04030"/><path d="M8 10V5.5A4.5 4.5 0 0 1 12.5 10z" fill="#30A030"/><path d="M8 10h4.5A4.5 4.5 0 0 1 8 14.5z" fill="#F0C020"/></svg>
<div class="a t" style="left:303px;top:657px;">Metric</div>
<div class="tab" style="left:338px;top:654px;width:104px;height:20px"></div>
<svg class="a" style="left:344px;top:657px" width="16" height="16" viewBox="0 0 16 16"><rect x="0.5" y="0.5" width="15" height="13" fill="#fff" stroke="#2F5FD0"/><rect x="1" y="1" width="14" height="2" fill="#3A78E8"/><path d="M3 6l3 2-3 2" stroke="#333" fill="none"/><path d="M8 11h5" stroke="#333"/></svg>
<div class="a t" style="left:366px;top:657px;">External Output</div>
<div class="tab" style="left:445px;top:654px;width:75px;height:20px"></div>
<svg class="a" style="left:452px;top:657px" width="16" height="16" viewBox="0 0 16 16"><rect x="0.5" y="0.5" width="15" height="13" fill="#fff" stroke="#2F5FD0"/><rect x="1" y="1" width="14" height="2" fill="#3A78E8"/><rect x="3" y="5" width="4" height="3" fill="#3A6AD0"/><path d="M8 6h5M3 9.5h10M3 11.5h10" stroke="#555"/></svg>
<div class="a t" style="left:474px;top:657px;">C Output</div>
<div class="tab" style="left:522px;top:654px;width:58px;height:20px"></div>
<svg class="a" style="left:528px;top:657px" width="16" height="16" viewBox="0 0 16 16"><circle cx="8" cy="8" r="7.5" fill="#E04A20"/><circle cx="8" cy="8" r="6" fill="#D83A18"/><path d="M5 5l6 6M11 5l-6 6" stroke="#fff" stroke-width="2"/></svg>
<div class="a t" style="left:549px;top:657px;">Errors</div>
<div class="tab" style="left:583px;top:654px;width:76px;height:20px"></div>
<svg class="a" style="left:588px;top:657px" width="16" height="16" viewBox="0 0 16 16"><path d="M8 0.5 L15.5 15 H0.5z" fill="#F8E020" stroke="#6A5A00"/><rect x="7" y="5" width="2" height="5.5" fill="#000"/><rect x="7" y="11.5" width="2" height="2" fill="#000"/></svg>
<div class="a t" style="left:610px;top:657px;">Warnings</div>
<div class="a" style="left:71px;top:652px;width:77px;height:24px;border:1px solid #919B9C;border-top:none;border-bottom:none;border-radius:3px 3px 0 0;background:#FCFCFE"></div>
<div class="a" style="left:71px;top:652px;width:77px;height:3px;border-radius:3px 3px 0 0;background:linear-gradient(#E68B2C,#FFC73C)"></div>
<svg class="a" style="left:79px;top:656px" width="16" height="16" viewBox="0 0 16 16"><rect x="0.7" y="2.7" width="11" height="13" fill="#F4F6FF" stroke="#2F6FE0" stroke-width="1.4"/><path d="M3 9.5h3M3 11.5h3M3 13.5h6" stroke="#aaa" stroke-width="0.8"/><path d="M3.6 10.8L7.4 14.2L15.2 5.2L11.4 1.8z" fill="#20C020" stroke="#107010" stroke-width="0.6"/><path d="M3.6 10.8L7.4 14.2L3 15.5z" fill="#E0D020"/><path d="M11.4 1.8L15.2 5.2L16.3 4L12.6 0.5z" fill="#E84010"/></svg>
<div class="a t" style="left:102px;top:658px;">Diagram</div>
<div class="a" style="left:4px;top:678px;width:494px;height:17px;border-left:1px solid #ACA899;border-top:1px solid #ACA899;border-right:1px solid #fff;border-bottom:1px solid #fff"></div>
<div class="a" style="left:502px;top:679px;width:98px;height:16px;border:1px solid #8A877A;border-radius:3px;background:#fff;box-shadow:inset 1px 1px 1px #C8C6BC"></div>
<div class="a" style="left:603px;top:678px;width:55px;height:17px;border-left:1px solid #ACA899;border-top:1px solid #ACA899;border-right:1px solid #fff;border-bottom:1px solid #fff"></div>
<div class="a t" style="left:607px;top:681px;">calculator</div>
<div class="a" style="left:660px;top:678px;width:49px;height:17px;border-left:1px solid #ACA899;border-top:1px solid #ACA899;border-right:1px solid #fff;border-bottom:1px solid #fff"></div>
<div class="a t" style="left:676px;top:681px;">5:2</div>
<div class="a" style="left:711px;top:678px;width:19px;height:17px;border-left:1px solid #ACA899;border-top:1px solid #ACA899;border-right:1px solid #fff;border-bottom:1px solid #fff"></div>
<svg class="a" style="left:712px;top:679px" width="16" height="16" viewBox="0 0 16 16"><path d="M1.5 1.5h8l3 3v11h-11z" fill="#EEF4FF" stroke="#3A6AD0"/><path d="M2 9 L6 14 L16 5" stroke="#2E9B2E" stroke-width="2.8" fill="none"/></svg>
<div class="a" style="left:732px;top:678px;width:18px;height:17px;border-left:1px solid #ACA899;border-top:1px solid #ACA899;border-right:1px solid #fff;border-bottom:1px solid #fff"></div>
<svg class="a" style="left:733px;top:679px" width="16" height="16" viewBox="0 0 16 16"><path d="M0.5 9.5l7 -4 7 4 -7 5z" fill="#9AA0C0" stroke="#6A70A0"/><path d="M0.5 7.5l7 -4 7 4 -7 5z" fill="#C8CCE0" stroke="#6A70A0"/><path d="M0.5 5.5l7 -4 7 4 -7 5z" fill="#fff" stroke="#6A70A0"/><path d="M3 5 L6 9 L14 1" stroke="#2E9B2E" stroke-width="2.6" fill="none"/></svg>
<div class="a" style="left:751px;top:678px;width:18px;height:17px;border-left:1px solid #ACA899;border-top:1px solid #ACA899;border-right:1px solid #fff;border-bottom:1px solid #fff"></div>
</body></html>
